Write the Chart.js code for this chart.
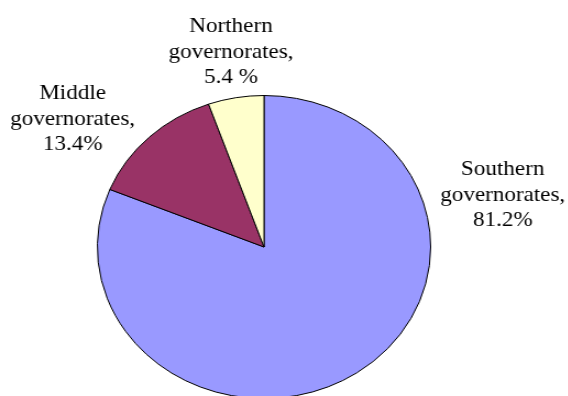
<!DOCTYPE html>
<html>
<head>
<meta charset="utf-8">
<script src="https://cdn.jsdelivr.net/npm/chart.js@4.4.0/dist/chart.umd.min.js"></script>
<style>
  html, body { margin: 0; padding: 0; background: #fff; overflow: hidden; }
  /* the reference is stretched sideways a little, so stretch the whole chart */
  #wrap { width: 516px; height: 420px; transform: scaleX(1.1); transform-origin: 0 0; }
</style>
</head>
<body>
<div id="wrap"><canvas id="pieChart"></canvas></div>
<script>
// Chart data
const regions = ['Southern', 'Middle', 'Northern'];
const shares = [81.2, 13.4, 5.4];
const shareLabels = ['81.2%', '13.4%', '5.4 %'];
const sliceColors = ['#9999FF', '#993366', '#FFFFCC'];

// Where each label block sits, relative to the pie centre (first baseline)
const labelOffsets = [
    { dx: 217, dy: -72 },
    { dx: -174, dy: -148 },
    { dx: -30, dy: -215 }
];

// Draws the slice labels as three centred lines
const sliceLabels = {
    id: 'sliceLabels',
    afterDraw(chart) {
        const ctx = chart.ctx;
        const arc = chart.getDatasetMeta(0).data[0];
        ctx.save();
        ctx.font = '21px "Liberation Serif", "Times New Roman", serif';
        ctx.fillStyle = '#000';
        ctx.textAlign = 'center';
        ctx.textBaseline = 'alphabetic';
        regions.forEach((name, i) => {
            const lines = [name, 'governorates,', shareLabels[i]];
            const x = arc.x + labelOffsets[i].dx;
            const y = arc.y + labelOffsets[i].dy;
            lines.forEach((txt, j) => ctx.fillText(txt, x, y + j * 25.5));
        });
        ctx.restore();
    }
};

function createChart() {
    const ctx = document.getElementById('pieChart').getContext('2d');
    new Chart(ctx, {
        type: 'pie',
        data: {
            labels: regions,
            datasets: [{
                data: shares,
                backgroundColor: sliceColors,
                borderColor: '#000',
                borderWidth: 1
            }]
        },
        options: {
            responsive: true,
            maintainAspectRatio: false,
            animation: false,
            layout: {
                padding: { top: 95, bottom: 21, left: 88, right: 124 }
            },
            plugins: {
                legend: { display: false },
                tooltip: { enabled: false }
            }
        },
        plugins: [sliceLabels]
    });
}

window.onload = createChart;
</script>
</body>
</html>
